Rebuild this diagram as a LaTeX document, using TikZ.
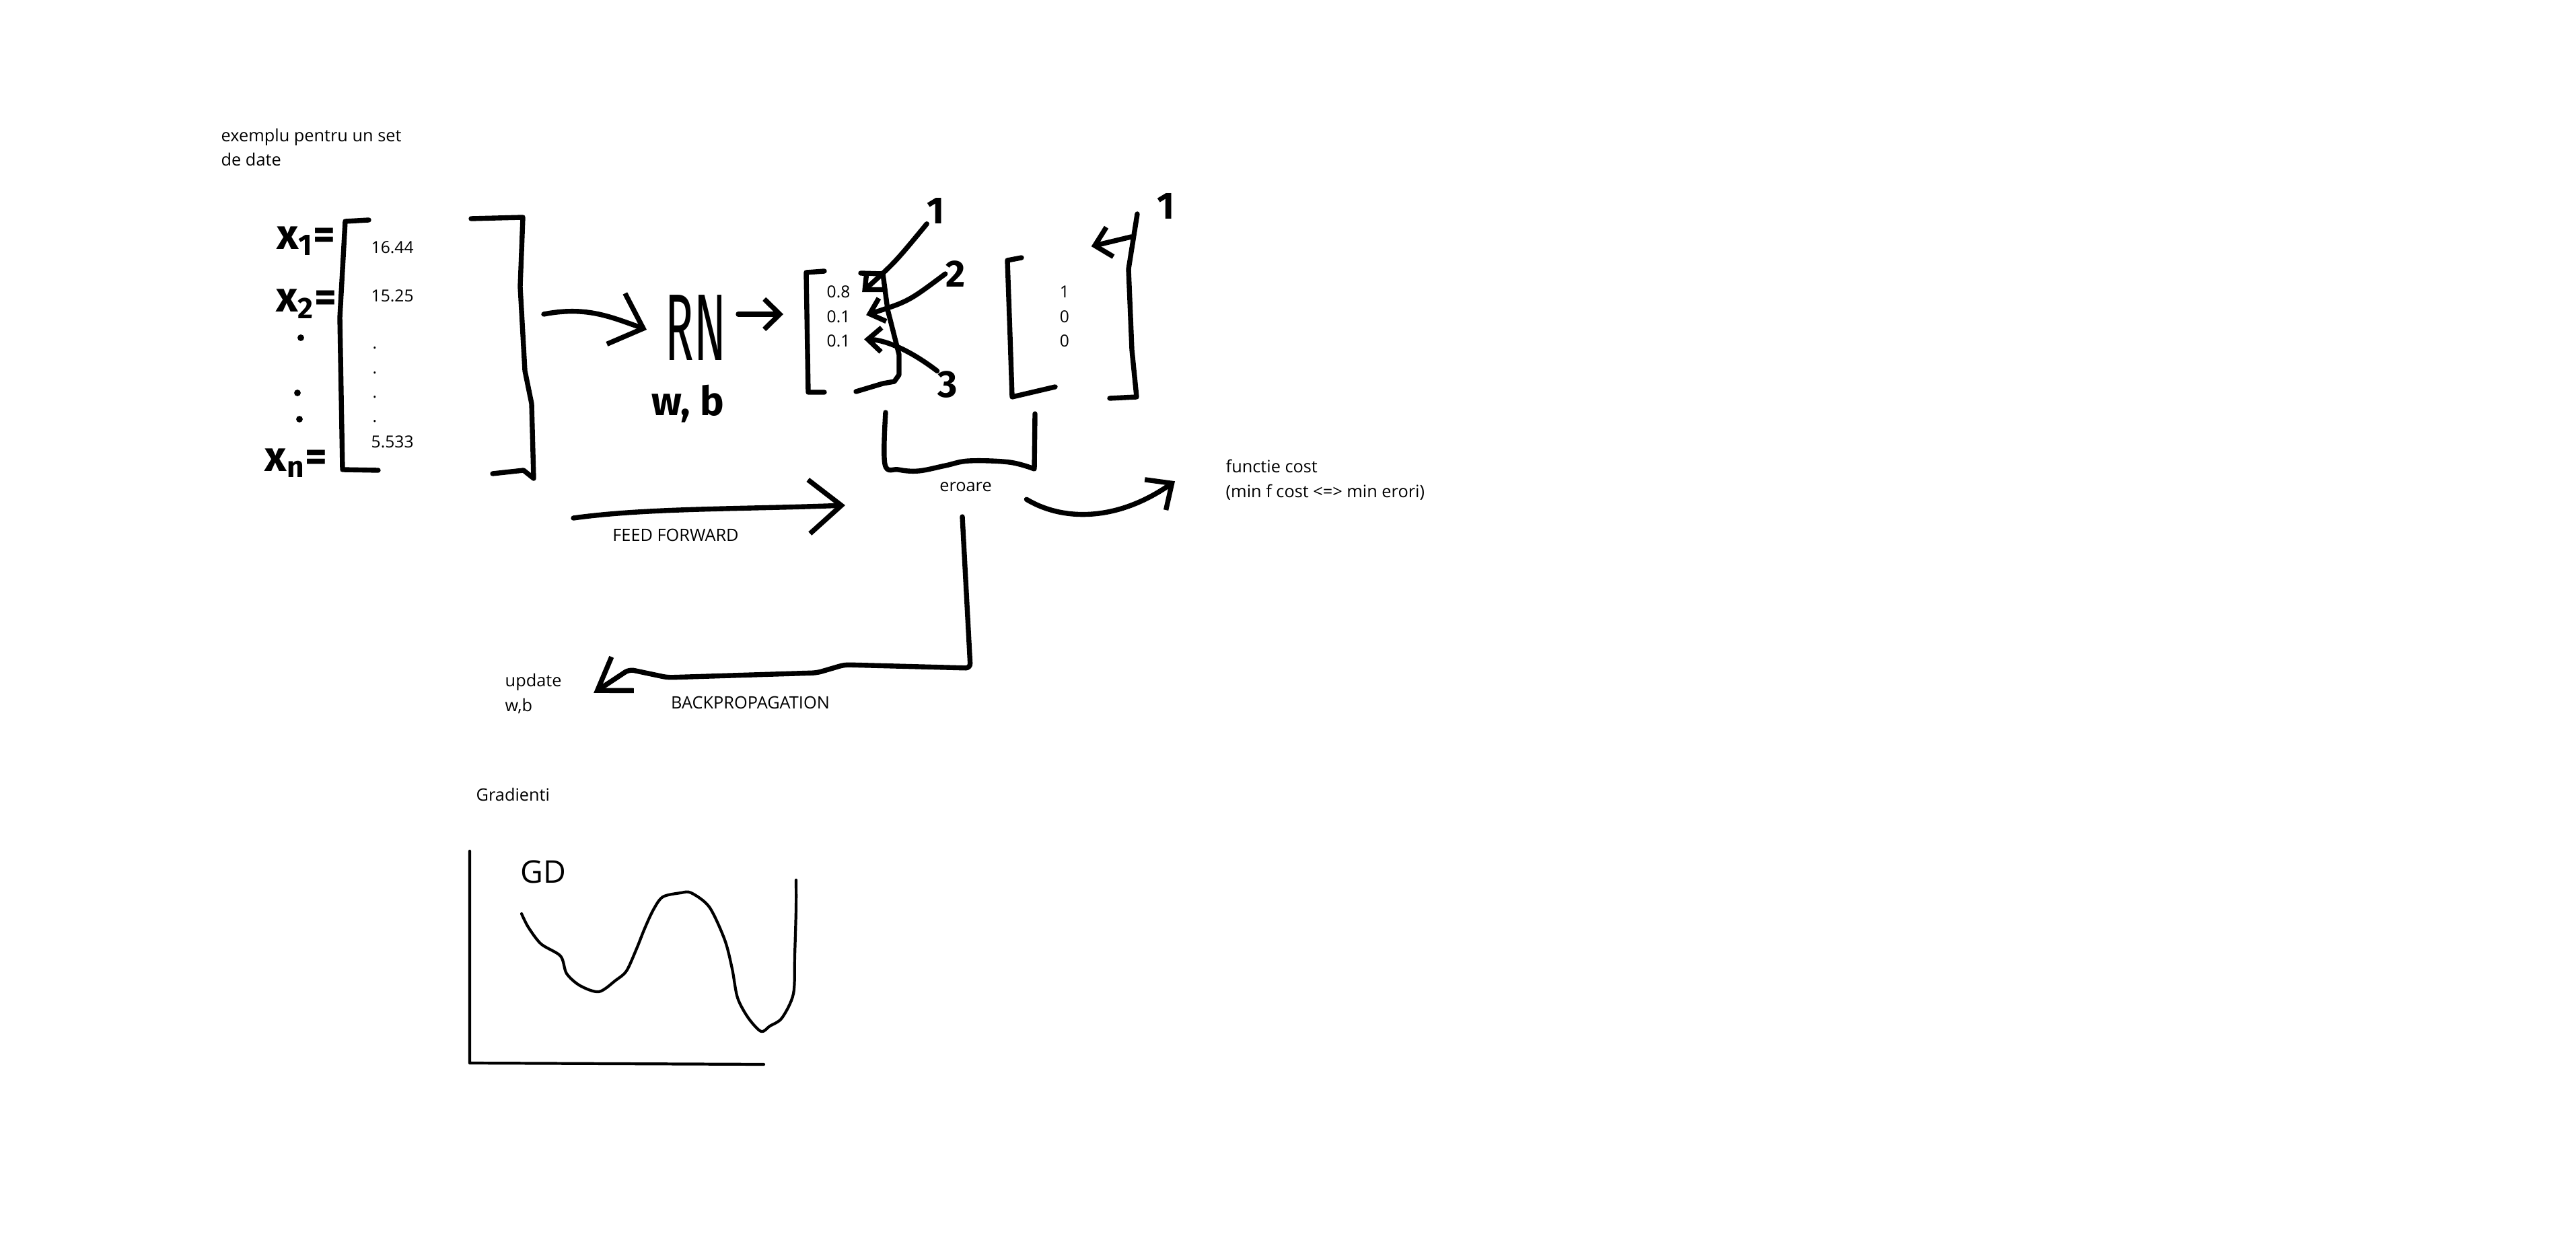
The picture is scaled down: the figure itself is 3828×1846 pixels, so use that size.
\documentclass[tikz,border=0pt]{standalone}
\usepackage{fontspec}
\setmainfont{Open Sans}
\newfontfamily\handfont{Fira Sans}
\usetikzlibrary{arrows.meta,positioning,calc}
\tikzset{
  pen/.style={line width=2.1pt,line cap=round,line join=round},
  thin pen/.style={line width=1.2pt,line cap=round,line join=round},
  tip/.style 2 args={-{Straight Barb[length=#1,width=#2]}},
  note/.style={font=\fontsize{7.2}{10.3}\selectfont,inner sep=0pt,align=left,anchor=base west},
  entry/.style={font=\fontsize{7}{8}\selectfont,inner sep=0pt,anchor=base west},
  hand/.style={font=\handfont\bfseries\fontsize{18}{18}\selectfont,inner sep=0pt},
  tag/.style={font=\handfont\bfseries\fontsize{16}{16}\selectfont,inner sep=0pt}
}
\begin{document}
\begin{tikzpicture}[x=0.01cm,y=-0.01cm]
  \useasboundingbox (0,0) rectangle (3828,1846);
  \node[note] (intro) at (328,247) {exemplu pentru un set\\de date};
  % input vector
  \node[hand] (x1) at (455,358) {x\textsubscript{1}=};
  \node[hand] (x2) at (455,452) {x\textsubscript{2}=};
  \node[hand] (xn) at (440,688) {x\textsubscript{n}=};
  \foreach \p in {(447,502),(442,584),(445,623)}
    \fill \p circle (1.4pt);
  \node[entry] (v1) at (551,377) {16.44};
  \node[entry] (v2) at (551,449) {15.25};
  \foreach \y [count=\i] in {519,556,592,628}
    \node[entry] (d\i) at (553,\y) {.};
  \node[entry] (vn) at (551,666) {5.533};
  \draw[pen] (548,327) -- (513,329) -- (505,472) -- (509,698) -- (562,699);
  \draw[pen] (700,325) -- (777,323) -- (773,426) -- (780,551) -- (790,600) -- (793,711) -- (778,699) -- (732,704);
  \coordinate (vecout) at (808,467);
  % network
  \node[font=\handfont\fontsize{40}{40}\selectfont,inner sep=0pt] (rn) at (1034,487) {\scalebox{0.5}[1]{RN}};
  \node[hand,font=\handfont\bfseries\fontsize{17}{17}\selectfont] (wb) at (1022,600) {w, b};
  \draw[pen,tip={4.3mm}{8mm}] (vecout) .. controls (870,455) and (905,470) .. ($(rn.west)+(-27,3)$);
  % prediction
  \node[entry] (p1) at (1228,443) {0.8};
  \node[entry] (p2) at (1228,480) {0.1};
  \node[entry] (p3) at (1228,516) {0.1};
  \draw[pen] (1225,403) -- (1198,405) -- (1201,583) -- (1225,583);
  \draw[pen] (1279,406) -- (1312,407) -- (1319,460) -- (1336,527) -- (1336,557) -- (1329,567) -- (1312,570) -- (1272,582);
  \coordinate (predL) at (1198,467);
  \draw[pen,tip={2.3mm}{4.5mm}] ($(rn.east)+(17,-20)$) -- ($(predL)+(-34,0)$);
  \node[tag] (n1) at (1391,313) {1};
  \node[tag] (n2) at (1420,407) {2};
  \node[tag] (n3) at (1408,572) {3};
  \draw[pen,tip={2mm}{3.6mm}] (n1.south west) .. controls (1330,390) .. ($(p1.east)+(17,0)$);
  \draw[pen,tip={2mm}{3.6mm}] (n2.west) .. controls (1350,448) .. ($(p2.east)+(23,-3)$);
  \draw[pen,tip={2mm}{3.6mm}] (n3.north west) .. controls (1345,515) and (1310,505) .. ($(p3.east)+(20,-3)$);
  % target
  \node[entry,anchor=base] (t1) at (1582,443) {1};
  \node[entry,anchor=base] (t2) at (1582,480) {0};
  \node[entry,anchor=base] (t3) at (1582,516) {0};
  \draw[pen] (1518,383) -- (1497,387) -- (1501,500) -- (1504,590) -- (1568,575);
  \draw[pen] (1690,318) -- (1677,400) -- (1682,520) -- (1689,590) -- (1649,592);
  \node[tag] (m1) at (1733,306) {1};
  \draw[pen,tip={2.3mm}{4.5mm}] ($(m1)+(-52,46)$) -- ($(t1.east)+(32,-68)$);
  % error
  \draw[pen] plot[smooth,tension=0.6] coordinates {(1316,613) (1315,690) (1335,698) (1365,700) (1405,692) (1440,685) (1500,687) (1537,697)} -- (1538,615);
  \node[note,anchor=base] (err) at (1435,730) {eroare};
  \node[note] (cost) at (1821,739) {functie cost\\(min f cost <=> min erori)};
  \draw[pen,tip={3mm}{5.5mm}] ($(err.east)+(51,19)$) .. controls (1580,775) and (1660,775) .. ($(cost.west)+(-75,2)$);
  % feed forward
  \coordinate (ffstart) at (852,770);
  \coordinate (ffend) at (1256,751);
  \draw[pen,tip={4.8mm}{8mm}] (ffstart) .. controls (960,755) and (1100,757) .. (ffend);
  \node[note,anchor=base] (ff) at (1004,804) {FEED FORWARD};
  % backpropagation
  \node[note] (upd) at (750,1057) {update\\w,b};
  \node[note,anchor=base] (bp) at (1115,1053) {BACKPROPAGATION};
  \draw[pen,tip={4.5mm}{6mm},rounded corners=2pt] ($(err.south)+(-5,37)$) -- (1442,993) -- (1255,988) -- (1214,1000) -- (992,1007) -- (935,995) -- ($(upd.east)+(47,-1)$);
  % gradient descent
  \node[note] (grad) at (707,1190) {Gradienti};
  \node[font=\fontsize{13.2}{14}\selectfont,inner sep=0pt,anchor=base west] (gd) at (773,1312) {GD};
  \draw[thin pen] (698,1265) -- (698,1580) -- (1135,1582);
  \draw[thin pen] plot[smooth,tension=0.5] coordinates {(775,1358) (785,1378) (804,1403) (833,1421) (842,1447) (862,1465) (890,1474) (915,1457) (931,1443) (946,1410) (958,1380) (971,1352) (985,1333) (1012,1327) (1027,1327) (1054,1348) (1077,1397) (1088,1440) (1096,1483) (1112,1513) (1131,1533) (1144,1525) (1162,1513) (1179,1477) (1181,1420) (1183,1350) (1183,1308)};
\end{tikzpicture}
\end{document}
